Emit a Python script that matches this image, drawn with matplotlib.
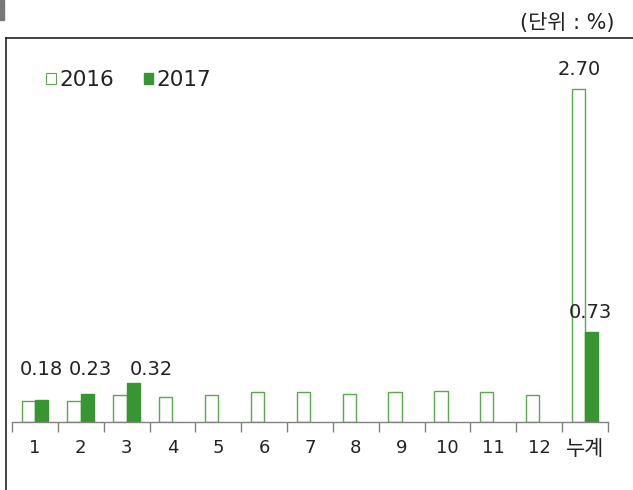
import matplotlib
matplotlib.use("Agg")
import matplotlib.pyplot as plt
from matplotlib.patches import Patch, Rectangle
from matplotlib.lines import Line2D
import numpy as np

plt.rcParams['font.family'] = ['DejaVu Sans', 'Noto Sans CJK KR']

categories = ['1', '2', '3', '4', '5', '6', '7', '8', '9', '10', '11', '12', '누계']
values_2016 = [0.17, 0.17, 0.22, 0.20, 0.22, 0.24, 0.24, 0.23, 0.24, 0.25, 0.24, 0.22, 2.70]
values_2017 = [0.18, 0.23, 0.32, 0.73]
idx_2017 = [0, 1, 2, 12]

# data labels: text, category index, x offset, y position
label_text = ['0.18', '0.23', '0.32', '2.70', '0.73']
label_idx = [0, 1, 2, 12, 12]
label_dx = [0.13, 0.22, 0.53, -0.12, 0.11]
label_y = [0.38, 0.38, 0.38, 2.81, 0.84]

green = '#389632'
edge_green = '#5aa84e'

W, H = 633, 490
fig = plt.figure(figsize=(W / 100, H / 100), dpi=100)

ax = fig.add_axes([12 / W, 68 / H, 596 / W, 370 / H])
x = np.arange(len(categories))
w = 0.29

ax.bar(x - w / 2, values_2016, width=w, facecolor='white', edgecolor=edge_green, linewidth=1.0)
ax.bar(x[idx_2017] + w / 2, values_2017, width=w, facecolor=green, edgecolor=green, linewidth=1.0)

for t, i, dx, y in zip(label_text, label_idx, label_dx, label_y):
    ax.text(i + dx, y, t, ha='center', va='baseline', fontsize=14, color='#222222')

ax.set_xlim(-0.5, len(categories) - 0.5)
ax.set_ylim(0, 3.0)
for s in ['top', 'left', 'right']:
    ax.spines[s].set_visible(False)
ax.spines['bottom'].set_color('#808080')
ax.spines['bottom'].set_linewidth(1.0)
ax.set_yticks([])
ax.set_xticks(x)
ax.set_xticklabels(categories, fontsize=13, color='#222222')
ax.get_xticklabels()[-1].set_fontsize(15)
ax.tick_params(axis='x', which='major', length=0, pad=12)
ax.set_xticks(np.arange(-0.5, len(categories)), minor=True)
ax.tick_params(axis='x', which='minor', length=7, width=1.0, color='#808080', direction='out')

handles = [Patch(facecolor='white', edgecolor=edge_green, linewidth=0.8, label='2016'),
           Patch(facecolor=green, edgecolor=green, label='2017')]
fig.legend(handles=handles, loc='upper left', bbox_to_anchor=(46 / W, 1 - 70 / H),
           ncol=2, frameon=False, fontsize=15.5, handlelength=0.45, handleheight=0.45,
           handletextpad=0.15, columnspacing=1.4, borderaxespad=0, borderpad=0,
           labelcolor='#222222')

# frame around chart and header
fig.add_artist(Line2D([5.5 / W, 1.0], [1 - 38 / H, 1 - 38 / H], color='#222222', linewidth=1.2))
fig.add_artist(Line2D([5.5 / W, 5.5 / W], [0.0, 1 - 38 / H], color='#222222', linewidth=1.2))
fig.add_artist(Rectangle((0, 1 - 20 / H), 3.5 / W, 20 / H, color='#777777'))
fig.text(615 / W, 1 - 23 / H, '(단위 : %)', ha='right', va='center', fontsize=15, color='#222222')

fig.savefig('out.png', dpi=100)
